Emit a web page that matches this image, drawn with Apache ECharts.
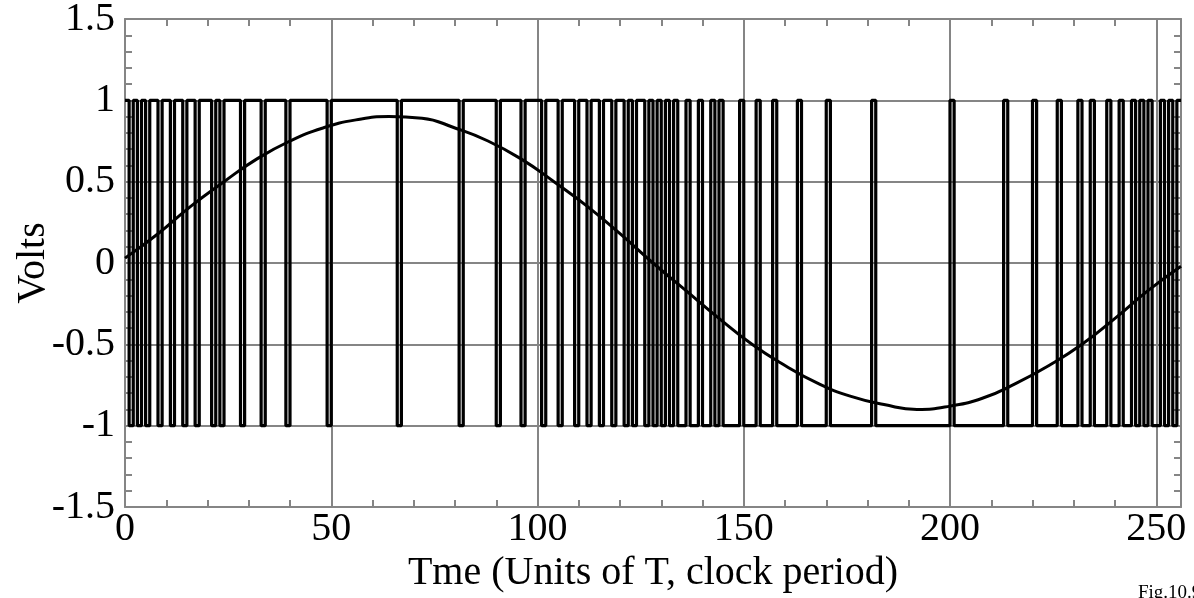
<!DOCTYPE html>
<html>
<head>
<meta charset="utf-8">
<script src="https://cdn.jsdelivr.net/npm/echarts@6.0.0/dist/echarts.min.js"></script>
<style>
  html, body { margin: 0; padding: 0; background: #fff; }
  #chart { width: 1194px; height: 598px; }
</style>
</head>
<body>
<div id="chart"></div>
<script>
// one output bit per clock period T (1 = +1 V, 0 = -1 V)
var bits = [
  1,0,1,0,1,0,1,1,0,1,  1,0,1,1,0,1,1,0,1,1,
  1,0,1,0,1,1,1,1,0,1,  1,1,1,0,1,1,1,1,1,0,
  1,1,1,1,1,1,1,1,1,0,  1,1,1,1,1,1,1,1,1,1,
  1,1,1,1,1,1,0,1,1,1,  1,1,1,1,1,1,1,1,1,1,
  1,0,1,1,1,1,1,1,1,1,  0,1,1,1,1,1,0,1,1,1,
  1,0,1,1,1,0,1,1,1,0,  1,1,0,1,1,0,1,1,0,1,
  1,0,1,0,1,1,0,1,0,1,  0,1,0,1,0,0,1,0,0,1,
  0,0,1,0,1,0,0,0,0,1,  0,0,0,1,0,0,0,1,0,0,
  0,0,0,1,0,0,0,0,0,0,  1,0,0,0,0,0,0,0,0,0,
  0,1,0,0,0,0,0,0,0,0,  0,0,0,0,0,0,0,0,0,0,
  1,0,0,0,0,0,0,0,0,0,  0,0,0,1,0,0,0,0,0,0,
  1,0,0,0,0,0,1,0,0,0,  0,1,0,0,1,0,0,0,1,0,
  0,1,0,0,1,0,1,0,1,0,  0,1,0,1,0,1
];

// filtered output (the smooth curve), sampled every 8 clocks
var curveTimes = [0, 8, 16, 24, 32, 40, 48, 56, 64, 72, 80, 88, 96, 104, 112, 120, 128,
  136, 144, 152, 160, 168, 176, 184, 192, 200, 208, 216, 224, 232, 240, 248, 256];
var curveVolts = [0.03, 0.18, 0.35, 0.50, 0.64, 0.75, 0.83, 0.88, 0.90, 0.89, 0.83, 0.75, 0.64,
  0.50, 0.35, 0.18, 0.00, -0.17, -0.34, -0.50, -0.63, -0.74, -0.82, -0.87, -0.90, -0.88,
  -0.83, -0.74, -0.63, -0.50, -0.34, -0.17, -0.02];

var xTicks = { min: 0, max: 256, step: 50 };
var yTicks = { min: -1.5, max: 1.5, step: 0.5 };

var serif = '"Liberation Serif", "DejaVu Serif", serif';
var gray = '#858585';

var stepData = bits.map(function (b, i) { return [i, b ? 1 : -1]; });
stepData.push([bits.length, bits[bits.length - 1] ? 1 : -1]);

var curveData = curveTimes.map(function (t, i) { return [t, curveVolts[i]]; });

function frameAxis(pos, range, labels) {
  return {
    type: 'value',
    position: pos,
    min: range.min,
    max: range.max,
    interval: range.step,
    axisLine: { show: true, onZero: false, lineStyle: { color: gray, width: 2 } },
    axisTick: { show: true, inside: true, length: 7, lineStyle: { color: gray, width: 2 } },
    minorTick: { show: true, splitNumber: 5, length: 7, lineStyle: { color: gray, width: 2 } },
    splitLine: { show: labels, lineStyle: { color: gray, width: 2 } },
    axisLabel: labels ? {
      show: true, color: '#000', fontFamily: serif, fontSize: 40,
      showMaxLabel: range.max % range.step === 0
    } : { show: false }
  };
}

var xBottom = frameAxis('bottom', xTicks, true);
xBottom.axisLabel.margin = 2;
xBottom.name = 'Tme (Units of T, clock period)';
xBottom.nameLocation = 'middle';
xBottom.nameGap = 46;
xBottom.nameMoveOverlap = false;
xBottom.nameTextStyle = { color: '#000', fontFamily: serif, fontSize: 40 };

var yLeft = frameAxis('left', yTicks, true);
yLeft.axisLabel.margin = 10;
yLeft.axisLabel.showMaxLabel = true;
yLeft.name = 'Volts';
yLeft.nameLocation = 'middle';
yLeft.nameGap = 72;
yLeft.nameMoveOverlap = false;
yLeft.nameTextStyle = { color: '#000', fontFamily: serif, fontSize: 40 };

var chart = echarts.init(document.getElementById('chart'));
chart.setOption({
  animation: false,
  backgroundColor: '#fff',
  grid: { left: 125, right: 13, top: 19, bottom: 91, outerBoundsMode: 'none' },
  xAxis: [xBottom, frameAxis('top', xTicks, false)],
  yAxis: [yLeft, frameAxis('right', yTicks, false)],
  graphic: [{
    type: 'text', left: 1138, top: 584,
    style: { text: 'Fig.10.9', font: '19px ' + serif, fill: '#000' }
  }],
  series: [
    {
      name: 'bitstream', type: 'line', step: 'end', data: stepData,
      showSymbol: false, lineStyle: { color: '#000', width: 3.2 }
    },
    {
      name: 'filtered', type: 'line', smooth: true, data: curveData,
      showSymbol: false, lineStyle: { color: '#000', width: 3 }
    }
  ]
});
</script>
</body>
</html>
